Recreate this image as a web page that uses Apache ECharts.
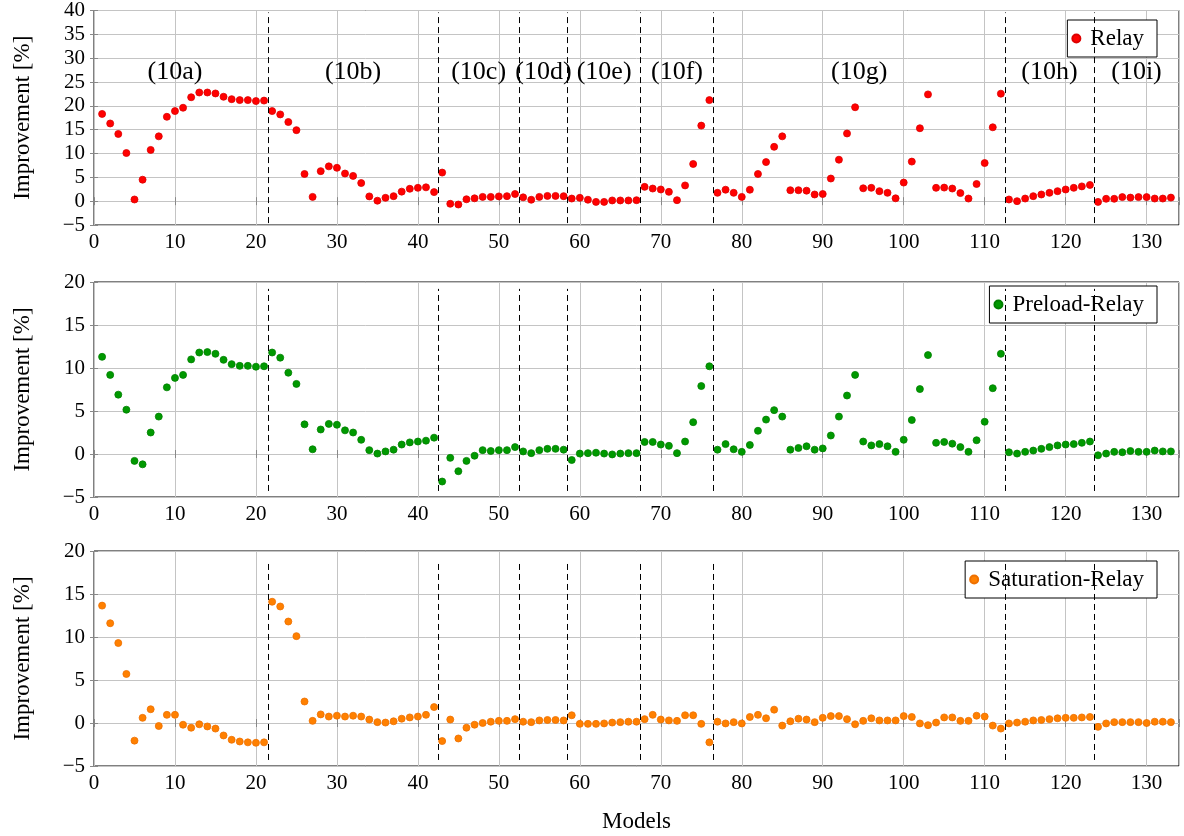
<!DOCTYPE html>
<html>
<head>
<meta charset="utf-8">
<script src="https://cdn.jsdelivr.net/npm/echarts@6/dist/echarts.min.js"></script>
<style>html,body{margin:0;padding:0;background:#fff}#c{width:1184px;height:836px}</style>
</head>
<body>
<div id="c"></div>
<script>
// ---- data ----
const models = [];
for (let i = 1; i <= 133; i++) models.push(i);

const relay = [18.3,16.3,14.1,10.1,0.35,4.5,10.75,13.6,17.7,18.9,19.6,21.8,22.8,22.8,22.6,21.9,21.4,21.2,21.2,21.0,21.1,
  18.9,18.2,16.6,14.9,5.7,0.9,6.3,7.3,7.0,5.8,5.3,3.8,1.0,0.1,0.7,1.05,2.0,2.6,2.8,2.9,1.9,
  6.0,-0.55,-0.7,0.4,0.6,0.9,0.9,1.0,1.05,1.5,
  0.8,0.3,0.9,1.1,1.1,1.05,
  0.55,0.7,0.3,-0.15,-0.15,0.15,0.15,0.15,0.2,
  3.0,2.65,2.45,1.95,0.2,3.3,7.8,15.85,21.2,
  1.75,2.4,1.75,0.9,2.4,5.7,8.2,11.4,13.6,2.3,2.3,2.2,1.4,1.5,4.75,8.7,14.2,19.7,2.7,2.8,2.1,1.75,0.6,3.9,8.3,15.3,22.4,2.8,2.85,2.65,1.7,0.55,3.6,8.0,15.5,22.55,
  0.35,0.0,0.55,1.05,1.4,1.75,2.1,2.45,2.8,3.1,3.4,
  -0.15,0.5,0.5,0.85,0.75,0.85,0.85,0.55,0.55,0.75];

const preload = [11.3,9.2,6.9,5.15,-0.8,-1.2,2.5,4.35,7.75,8.85,9.2,11.0,11.8,11.85,11.65,10.95,10.45,10.25,10.25,10.15,10.2,
  11.8,11.2,9.45,8.15,3.45,0.55,2.85,3.5,3.4,2.75,2.5,1.65,0.45,0.05,0.3,0.5,1.1,1.35,1.45,1.55,1.9,
  -3.2,-0.45,-2.0,-0.8,-0.2,0.45,0.35,0.45,0.45,0.8,
  0.3,0.1,0.45,0.6,0.6,0.5,
  -0.7,0.05,0.1,0.15,0.05,-0.05,0.05,0.1,0.1,
  1.4,1.4,1.1,0.95,0.1,1.45,3.7,7.9,10.2,
  0.5,1.15,0.55,0.25,1.05,2.7,4.0,5.1,4.35,0.5,0.7,0.9,0.5,0.65,2.15,4.35,6.8,9.2,1.45,1.0,1.15,0.9,0.25,1.65,3.95,7.55,11.5,1.3,1.4,1.2,0.8,0.25,1.6,3.75,7.65,11.65,
  0.2,0.05,0.25,0.4,0.6,0.8,1.0,1.1,1.15,1.3,1.45,
  -0.15,0.05,0.25,0.2,0.35,0.25,0.25,0.4,0.3,0.3];

const saturation = [13.65,11.6,9.3,5.7,-2.05,0.6,1.6,-0.35,0.95,0.95,-0.2,-0.55,-0.15,-0.4,-0.65,-1.45,-1.95,-2.15,-2.25,-2.3,-2.25,
  14.1,13.55,11.8,10.1,2.5,0.25,1.0,0.75,0.85,0.75,0.85,0.75,0.4,0.1,0.05,0.2,0.5,0.65,0.75,0.95,1.85,
  -2.1,0.4,-1.8,-0.55,-0.2,0.0,0.15,0.25,0.25,0.45,
  0.15,0.1,0.3,0.35,0.35,0.3,
  0.9,-0.1,-0.1,-0.1,-0.05,0.05,0.1,0.15,0.15,
  0.45,0.95,0.4,0.3,0.25,0.9,0.9,-0.1,-2.25,
  0.15,-0.05,0.1,-0.05,0.7,0.95,0.55,1.55,-0.3,0.2,0.5,0.4,0.1,0.6,0.8,0.8,0.45,-0.15,0.25,0.55,0.3,0.3,0.3,0.8,0.7,-0.05,-0.25,0.05,0.65,0.65,0.25,0.25,0.85,0.75,-0.3,-0.65,
  -0.05,0.05,0.15,0.3,0.35,0.45,0.55,0.6,0.6,0.65,0.7,
  -0.45,-0.05,0.1,0.1,0.1,0.1,0.0,0.15,0.15,0.1];

const boundaries = [21.5,42.5,52.5,58.5,67.5,76.5,112.5,123.5];
const sectionNames = ['(10a)','(10b)','(10c)','(10d)','(10e)','(10f)','(10g)','(10h)','(10i)'];
const sectionPos = [10,32,47.5,55.5,63,72,94.5,118,128.75];
const sectionY = 27;

const xTicks = [0,10,20,30,40,50,60,70,80,90,100,110,120,130];
const topY = {min:-5,max:40,interval:5};
const lowY = {min:-5,max:20,interval:5};

// ---- chart ----
const FONT = 'Liberation Serif';
const chart = echarts.init(document.getElementById('c'), null, {renderer:'canvas'});

const grids = [
  {left:94,right:5,top:10,height:215},
  {left:94,right:5,top:282,height:215},
  {left:94,right:5,top:551,height:215}
].map(g => Object.assign(g,{show:true,borderColor:'#000',borderWidth:1,backgroundColor:'transparent',containLabel:false}));

function xAx(i, withName){
  return {
    type:'value', gridIndex:i, min:0, max:134, interval:10,
    axisLine:{show:false},
    axisTick:{show:true,inside:true,length:4,lineStyle:{color:'#888'}},
    axisLabel:{fontFamily:FONT,fontSize:21,color:'#000',margin:7,
      formatter:v => xTicks.indexOf(v)>=0 ? String(v) : ''},
    splitLine:{show:true,lineStyle:{color:'#c4c4c4',width:1}},
    name: withName ? 'Models' : '',
    nameLocation:'middle', nameGap:44,
    nameTextStyle:{fontFamily:FONT,fontSize:23,color:'#000'}
  };
}
function xAxTop(i){
  return {type:'value',gridIndex:i,min:0,max:134,interval:10,position:'top',
    axisLine:{show:false},axisLabel:{show:false},splitLine:{show:false},
    axisTick:{show:true,inside:true,length:4,lineStyle:{color:'#888'}}};
}
function yAx(i, r){
  return {
    type:'value', gridIndex:i, min:r.min, max:r.max, interval:r.interval,
    axisLine:{show:false},
    axisTick:{show:true,inside:true,length:4,lineStyle:{color:'#888'}},
    axisLabel:{fontFamily:FONT,fontSize:21,color:'#000',margin:9,
      formatter:v => v<0 ? '\u2212'+Math.abs(v) : String(v)},
    splitLine:{show:true,lineStyle:{color:'#c4c4c4',width:1}},
    name:'Improvement [%]', nameLocation:'middle', nameGap:60,
    nameTextStyle:{fontFamily:FONT,fontSize:23,color:'#000'}
  };
}
function yAxRight(i, r){
  return {type:'value',gridIndex:i,min:r.min,max:r.max,interval:r.interval,position:'right',
    axisLine:{show:false},axisLabel:{show:false},splitLine:{show:false},
    axisTick:{show:true,inside:true,length:4,lineStyle:{color:'#888'}}};
}

function dashLines(lo, hi){
  return {
    silent:true, symbol:['none','none'], animation:false,
    label:{show:false},
    lineStyle:{color:'#000',type:[6,4],width:1},
    data: boundaries.map(b => [{coord:[b,lo]},{coord:[b,hi]}])
  };
}

function pts(vals){ return models.map((m,k)=>[m, vals[k]]); }

const colors = ['#ff0000','#009900','#ff8000'];
const names = ['Relay','Preload-Relay','Saturation-Relay'];

const option = {
  animation:false,
  backgroundColor:'#fff',
  grid:grids,
  xAxis:[xAx(0,false),xAx(1,false),xAx(2,true),xAxTop(0),xAxTop(1),xAxTop(2)],
  yAxis:[yAx(0,topY),yAx(1,lowY),yAx(2,lowY),yAxRight(0,topY),yAxRight(1,lowY),yAxRight(2,lowY)],
  legend:[0,1,2].map(i => ({
    data:[names[i]], right:27, top:[20,286,561][i], orient:'vertical',
    backgroundColor:'#fff', borderColor:'#000', borderWidth:1, borderRadius:0,
    padding:[7,13,7,4], itemWidth:18, itemHeight:8, icon:'circle',
    textStyle:{fontFamily:FONT,fontSize:23,color:'#000'}
  })),
  series:[
    {name:names[0],type:'scatter',xAxisIndex:0,yAxisIndex:0,data:pts(relay),symbol:'circle',symbolSize:7,
      itemStyle:{color:colors[0],opacity:1,borderColor:'#dd0000',borderWidth:0.8},markLine:dashLines(-4.6,39.6),z:3},
    {name:names[1],type:'scatter',xAxisIndex:1,yAxisIndex:1,data:pts(preload),symbol:'circle',symbolSize:7,
      itemStyle:{color:colors[1],opacity:1,borderColor:'#008000',borderWidth:0.8},markLine:dashLines(-4.3,19.2),z:3},
    {name:names[2],type:'scatter',xAxisIndex:2,yAxisIndex:2,data:pts(saturation),symbol:'circle',symbolSize:7,
      itemStyle:{color:colors[2],opacity:1,borderColor:'#ee7000',borderWidth:0.8},markLine:dashLines(-4.3,18.6),z:3},
    {name:'sections',type:'scatter',xAxisIndex:0,yAxisIndex:0,silent:true,symbolSize:1,
      itemStyle:{color:'transparent',opacity:1},
      data:sectionNames.map((n,k)=>({name:n,value:[sectionPos[k],sectionY]})),
      label:{show:true,position:'inside',formatter:p=>p.name,fontFamily:FONT,fontSize:26,color:'#000'},
      z:5}
  ]
};
chart.setOption(option);
</script>
</body>
</html>
